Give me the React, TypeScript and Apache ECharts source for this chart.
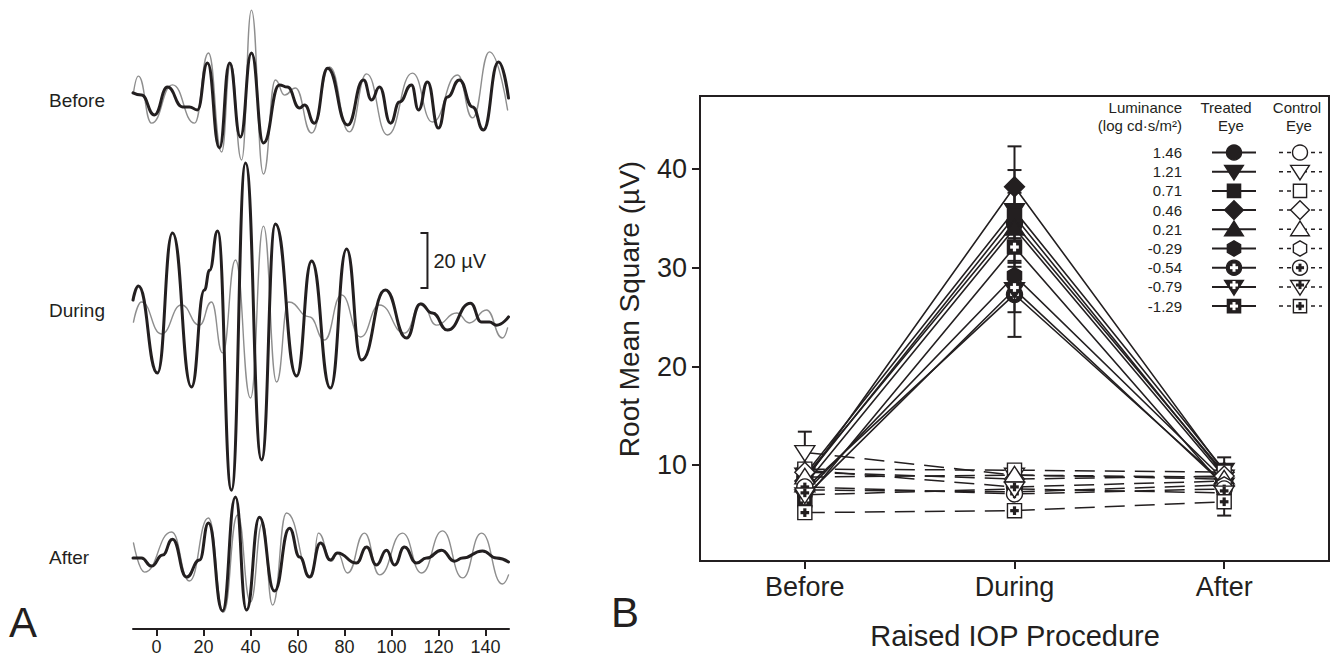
import React, { useEffect, useRef } from "react";
import * as echarts from "echarts";

// ---------- Panel A: oscillatory potential traces (time in ms, amplitude in µV) ----------
const beforeTreatedT = [-10, -6.4, -0.9, 4.7, 11.1, 14.0, 17.4, 21.7, 26.8, 31.1, 35.7, 40.4, 45.5, 52.3, 55.7, 60.9, 63.0, 67.2, 72.8, 81.3, 88.1, 91.5, 94.9, 99.6, 103.4, 108.5, 111.5, 115.3, 120.0, 123.8, 128.9, 134.5, 139.1, 145.5, 149.8];
const beforeTreatedA = [1.5, 0.7, -6.5, 3.6, -3.6, -3.6, -4.7, 12.4, -18.5, 12.4, -14.5, 16.0, -16.7, 4.4, 3.6, -4.0, -2.9, -9.5, 10.5, -10.2, 6.2, -1.1, 3.6, -9.5, -1.8, 4.4, -4.7, 5.5, -11.3, 0, 6.2, -3.6, -12.0, 12.7, -0.4];
const beforeControlT = [-9.8, -7.7, -2.1, 6.8, 16.2, 22.1, 27.7, 31.5, 36.2, 40.4, 45.5, 50.6, 54.5, 59.1, 66.0, 73.6, 82.1, 89.4, 98.3, 108.9, 117.4, 128.1, 134.5, 141.7, 149.4];
const beforeControlA = [1.5, 7.6, -9.5, 4.4, -9.5, 16.0, -20.0, 12.4, -22.9, 31.6, -28.0, 6.2, 0.7, 3.3, -13.1, 10.9, -12.7, 8.4, -13.8, 8.7, -9.1, 8.0, -7.6, 16.4, -4.7];

const duringTreatedT = [-10, -7.7, 0.4, 6.8, 14.9, 20.4, 22.6, 26.0, 31.9, 37.9, 44.7, 50.6, 59.6, 66.0, 74.0, 80.9, 87.2, 97.4, 106.4, 112.3, 117.4, 123.8, 133.6, 138.3, 141.7, 144.7, 149.8];
const duringTreatedA = [3.6, 8.7, -22.9, 28.0, -28.0, 7.3, 14.5, 28.7, -65.5, 53.5, -54.5, 31.3, -24.0, 17.8, -28.4, 22.2, -18.2, 7.3, -10.2, 2.2, -1.1, -7.3, 2.5, -4.4, -4.4, -5.5, -2.5];
const duringControlT = [-9.8, -6.4, 2.1, 10.6, 18.3, 23.4, 28.1, 33.6, 40.0, 45.5, 51.1, 56.2, 65.1, 71.5, 78.7, 86.8, 94.9, 105.5, 112.8, 119.1, 127.7, 133.2, 140.4, 147.2, 149.4];
const duringControlA = [-4.4, 2.9, -8.7, 1.8, -5.5, 2.9, -15.6, 18.2, -32.0, 30.5, -26.2, 2.9, -2.5, -10.9, 5.5, -9.8, 1.8, -8.4, 2.5, -5.5, -1.1, -4.7, 0, -10.2, -6.5];

const afterTreatedT = [-10, -6.4, -2.1, 2.6, 6.8, 12.8, 18.3, 22.1, 28.1, 33.6, 38.3, 43.8, 50.2, 56.6, 60.9, 65.1, 69.8, 74.0, 77.0, 85.1, 89.4, 93.6, 97.9, 101.3, 105.5, 110.6, 114.9, 121.3, 126.8, 130.2, 138.7, 144.7, 149.8];
const afterTreatedA = [-0.4, -0.4, -3.3, 0.7, 6.5, -7.3, -1.1, 12.4, -19.6, 21.8, -19.3, 14.5, -12.4, 10.5, 0, -7.3, 5.1, -1.1, 1.5, -2.2, 3.6, -2.9, 2.5, -2.9, 3.6, -2.2, -0.4, 2.5, -1.5, -0.4, 2.2, -0.4, -1.8];
const afterControlT = [-9.8, -5.1, 6.4, 14.0, 22.1, 28.5, 34.5, 40.0, 45.1, 49.4, 55.3, 66.0, 68.9, 74.5, 77.0, 81.3, 88.5, 94.9, 104.7, 112.8, 121.7, 130.2, 138.3, 147.2, 149.8];
const afterControlA = [5.1, -5.5, 9.1, -8.7, 14.2, -20.0, 15.3, -16.4, 12.4, -17.5, 16.0, -7.3, 8.7, -1.5, 1.5, -5.8, 8.7, -6.5, 8.7, -5.8, 9.5, -7.6, 8.7, -9.8, -6.5];

const traceLabels = ["Before", "During", "After"];
const timeTicks = [0, 20, 40, 60, 80, 100, 120, 140];
const scaleBarUv = 20;
const scaleBarT = 115.3;

// ---------- Panel B: RMS per luminance ----------
const phases = ["Before", "During", "After"];
const luminance = ["1.46", "1.21", "0.71", "0.46", "0.21", "-0.29", "-0.54", "-0.79", "-1.29"];
const treatedBefore = [8.8, 9.0, 8.6, 8.4, 8.0, 7.2, 7.6, 6.8, 6.5];
const treatedDuring = [34.5, 35.8, 35.2, 38.2, 34.0, 29.2, 27.3, 27.8, 32.1];
const treatedAfter = [9.2, 9.5, 9.0, 9.3, 8.8, 8.5, 8.2, 8.0, 7.8];
const controlBefore = [9.5, 11.3, 9.6, 9.3, 8.8, 7.5, 7.8, 7.0, 5.2];
const controlDuring = [7.8, 9.0, 9.5, 8.6, 9.0, 7.3, 7.1, 7.6, 5.4];
const controlAfter = [8.4, 8.8, 9.3, 8.9, 8.6, 8.0, 7.6, 7.2, 6.3];
const treatedSEBefore = [0.6, 0.6, 0.6, 0.6, 0.6, 0.6, 0.6, 0.6, 0.6];
const treatedSEDuring = [1.5, 1.8, 4.7, 4.1, 1.5, 1.5, 4.3, 2.3, 0.6];
const treatedSEAfter = [0.6, 0.6, 0.6, 0.6, 0.6, 0.6, 0.6, 0.6, 0.6];
const controlSEBefore = [0.6, 2.1, 0.6, 0.6, 0.6, 0.6, 0.6, 0.6, 0.6];
const controlSEDuring = [0.6, 0.6, 0.6, 0.6, 0.6, 0.6, 0.6, 0.6, 0.6];
const controlSEAfter = [0.6, 2.0, 0.6, 0.6, 0.6, 0.6, 0.6, 0.6, 1.4];
const rmsTicks = [10, 20, 30, 40];
const markerKinds = ["circle", "triDown", "square", "diamond", "triUp", "hexagon", "circlePlus", "triDownPlus", "squarePlus"];

// ---------- styling / layout ----------
const INK = "#231f20";
const GRAY = "#8e8e8e";
const FONT = "'Liberation Sans', Arial, Helvetica, sans-serif";
const A_PX_PER_UV = 2.75;
const A_HEIGHT = 629;
const BASE_BEFORE = (A_HEIGHT - 97) / A_PX_PER_UV;
const BASE_DURING = (A_HEIGHT - 310) / A_PX_PER_UV;
const BASE_AFTER = (A_HEIGHT - 557) / A_PX_PER_UV;

function shapeEls(kind: string, cx: number, cy: number, s: number, filled: boolean) {
  const h = s / 2;
  const style = { fill: filled ? INK : "#fff", stroke: INK, lineWidth: 1.4 };
  const els: any[] = [];
  const base = kind.replace("Plus", "");
  if (base === "circle") {
    els.push({ type: "circle", shape: { cx, cy, r: h }, style });
  } else if (base === "square") {
    const q = h * 0.88;
    els.push({ type: "rect", shape: { x: cx - q, y: cy - q, width: 2 * q, height: 2 * q }, style });
  } else if (base === "diamond") {
    const d = h * 1.25;
    els.push({ type: "polygon", shape: { points: [[cx, cy - d], [cx + d, cy], [cx, cy + d], [cx - d, cy]] }, style });
  } else if (base === "triUp") {
    els.push({ type: "polygon", shape: { points: [[cx, cy - h * 1.1], [cx + h * 1.25, cy + h * 0.85], [cx - h * 1.25, cy + h * 0.85]] }, style });
  } else if (base === "triDown") {
    els.push({ type: "polygon", shape: { points: [[cx, cy + h * 1.1], [cx + h * 1.25, cy - h * 0.85], [cx - h * 1.25, cy - h * 0.85]] }, style });
  } else if (base === "hexagon") {
    const pts: number[][] = [];
    for (let k = 0; k < 6; k++) {
      const ang = (-90 + k * 60) * Math.PI / 180;
      pts.push([cx + h * 1.02 * Math.cos(ang), cy + h * 1.02 * Math.sin(ang)]);
    }
    els.push({ type: "polygon", shape: { points: pts }, style });
  }
  if (kind.endsWith("Plus")) {
    const pc = filled ? "#fff" : INK;
    const a = s * 0.27;
    const t = s * 0.1;
    const py = base === "triDown" ? cy - h * 0.25 : cy;
    els.push({ type: "rect", shape: { x: cx - a, y: py - t, width: 2 * a, height: 2 * t }, style: { fill: pc } });
    els.push({ type: "rect", shape: { x: cx - t, y: py - a, width: 2 * t, height: 2 * a }, style: { fill: pc } });
  }
  return els;
}

function trace(t: number[], a: number[], base: number, color: string, width: number, z: number) {
  return {
    type: "line",
    xAxisIndex: 0,
    yAxisIndex: 0,
    data: t.map((x, i) => [x, a[i] + base]),
    symbol: "none",
    smooth: 0.5,
    smoothMonotone: "x",
    lineStyle: { color, width, cap: "round", join: "round" },
    silent: true,
    z,
  };
}

function buildOption() {
  const series: any[] = [];
  // Panel A traces
  series.push(trace(beforeControlT, beforeControlA, BASE_BEFORE, GRAY, 1.4, 2));
  series.push(trace(beforeTreatedT, beforeTreatedA, BASE_BEFORE, INK, 3, 3));
  series.push(trace(duringControlT, duringControlA, BASE_DURING, GRAY, 1.4, 2));
  series.push(trace(duringTreatedT, duringTreatedA, BASE_DURING, INK, 3, 3));
  series.push(trace(afterControlT, afterControlA, BASE_AFTER, GRAY, 1.4, 2));
  series.push(trace(afterTreatedT, afterTreatedA, BASE_AFTER, INK, 3, 3));

  // scale bar
  series.push({
    type: "custom",
    xAxisIndex: 0,
    yAxisIndex: 0,
    data: [[scaleBarT, BASE_DURING + 8, scaleBarUv]],
    encode: { x: 0, y: 1 },
    silent: true,
    renderItem: (params: any, api: any) => {
      const t = api.value(0);
      const y0 = api.value(1);
      const len = api.value(2);
      const b = api.coord([t, y0]);
      const top = api.coord([t, y0 + len]);
      return {
        type: "group",
        children: [
          { type: "polyline", shape: { points: [[b[0] - 7, top[1]], [b[0], top[1]], [b[0], b[1]], [b[0] - 7, b[1]]] }, style: { stroke: INK, lineWidth: 2, fill: "none" } },
          { type: "text", x: b[0] + 6, y: (b[1] + top[1]) / 2, style: { text: `${len} µV`, fill: INK, fontSize: 20, fontFamily: FONT, align: "left", verticalAlign: "middle" } },
        ],
      };
    },
  });

  // Panel B lines
  for (let i = 0; i < luminance.length; i++) {
    series.push({
      type: "line", xAxisIndex: 1, yAxisIndex: 1, symbol: "none", silent: true, z: 2,
      data: [controlBefore[i], controlDuring[i], controlAfter[i]],
      lineStyle: { color: INK, width: 1.5, type: [20, 10] },
    });
  }
  for (let i = 0; i < luminance.length; i++) {
    series.push({
      type: "line", xAxisIndex: 1, yAxisIndex: 1, symbol: "none", silent: true, z: 2,
      data: [treatedBefore[i], treatedDuring[i], treatedAfter[i]],
      lineStyle: { color: INK, width: 1.6 },
    });
  }

  // error bars
  const errData: number[][] = [];
  for (let i = 0; i < luminance.length; i++) {
    errData.push([0, treatedBefore[i], treatedSEBefore[i]]);
    errData.push([1, treatedDuring[i], treatedSEDuring[i]]);
    errData.push([2, treatedAfter[i], treatedSEAfter[i]]);
    errData.push([0, controlBefore[i], controlSEBefore[i]]);
    errData.push([1, controlDuring[i], controlSEDuring[i]]);
    errData.push([2, controlAfter[i], controlSEAfter[i]]);
  }
  series.push({
    type: "custom", xAxisIndex: 1, yAxisIndex: 1, silent: true, z: 3,
    data: errData, encode: { x: 0, y: 1 },
    renderItem: (params: any, api: any) => {
      const x = api.value(0), v = api.value(1), se = api.value(2);
      const c = api.coord([x, v]);
      const hi = api.coord([x, v + se]);
      const lo = api.coord([x, v - se]);
      const st = { stroke: INK, lineWidth: 2 };
      const ch: any[] = [];
      const cap = 7;
      if (c[1] - hi[1] > 9) {
        ch.push({ type: "line", shape: { x1: c[0], y1: c[1], x2: c[0], y2: hi[1] }, style: st });
        ch.push({ type: "line", shape: { x1: c[0] - cap, y1: hi[1], x2: c[0] + cap, y2: hi[1] }, style: st });
      }
      if (lo[1] - c[1] > 9) {
        ch.push({ type: "line", shape: { x1: c[0], y1: c[1], x2: c[0], y2: lo[1] }, style: st });
        ch.push({ type: "line", shape: { x1: c[0] - cap, y1: lo[1], x2: c[0] + cap, y2: lo[1] }, style: st });
      }
      return { type: "group", children: ch };
    },
  });

  // markers
  const mk = (filled: boolean, b: number[], d: number[], a: number[], z: number) => {
    const data: number[][] = [];
    for (let i = 0; i < luminance.length; i++) {
      data.push([0, b[i], i]);
      data.push([1, d[i], i]);
      data.push([2, a[i], i]);
    }
    return {
      type: "custom", xAxisIndex: 1, yAxisIndex: 1, silent: true, z,
      data, encode: { x: 0, y: 1 },
      renderItem: (params: any, api: any) => {
        const p = api.coord([api.value(0), api.value(1)]);
        return { type: "group", children: shapeEls(markerKinds[api.value(2)], p[0], p[1], 16, filled) };
      },
    };
  };
  series.push(mk(true, treatedBefore, treatedDuring, treatedAfter, 4));
  series.push(mk(false, controlBefore, controlDuring, controlAfter, 5));

  // graphics: labels, legend, titles
  const graphic: any[] = [];
  const txt = (text: string, x: number, y: number, size: number, align = "left", extra: any = {}) => ({
    type: "text", x, y, z: 100, ...extra,
    style: { text, fill: INK, fontSize: size, fontFamily: FONT, align, verticalAlign: "middle" },
  });
  const labelYs = [100, 310, 557];
  traceLabels.forEach((l, i) => graphic.push(txt(l, 49, labelYs[i], 19)));
  graphic.push(txt("A", 9, 622, 42));
  graphic.push(txt("B", 611, 612, 42));
  graphic.push(txt("Root Mean Square (µV)", 629, 309, 28, "center", { rotation: Math.PI / 2 }));
  graphic.push(txt("Raised IOP Procedure", 1015, 636, 29, "center"));

  // legend
  const LX = 1182, TX = 1234, CX = 1300;
  graphic.push(txt("Luminance", LX, 107, 15, "right"));
  graphic.push(txt("(log cd·s/m²)", LX, 125, 15, "right"));
  graphic.push(txt("Treated", 1226, 107, 15, "center"));
  graphic.push(txt("Eye", 1231, 125, 15, "center"));
  graphic.push(txt("Control", 1297, 107, 15, "center"));
  graphic.push(txt("Eye", 1299, 125, 15, "center"));
  luminance.forEach((lum, i) => {
    const y = 152.5 + i * 19.2;
    graphic.push(txt(lum, LX, y, 15, "right"));
    graphic.push({ type: "line", z: 100, shape: { x1: TX - 22, y1: y, x2: TX + 22, y2: y }, style: { stroke: INK, lineWidth: 2 } });
    graphic.push({ type: "line", z: 100, shape: { x1: CX - 21, y1: y, x2: CX + 22, y2: y }, style: { stroke: INK, lineWidth: 1.5, lineDash: [4, 4] } });
    shapeEls(markerKinds[i], TX, y, 15, true).forEach((e) => graphic.push({ ...e, z: 101 }));
    shapeEls(markerKinds[i], CX, y, 15, false).forEach((e) => graphic.push({ ...e, z: 101 }));
  });

  return {
    animation: false,
    backgroundColor: "#fff",
    textStyle: { fontFamily: FONT, color: INK },
    grid: [
      { left: 133, top: 0, width: 376, height: A_HEIGHT },
      { left: 700, top: 96, width: 629, height: 465, show: true, borderColor: INK, borderWidth: 2, backgroundColor: "transparent" },
    ],
    xAxis: [
      {
        type: "value", gridIndex: 0, min: -10, max: 150,
        axisLine: { show: true, onZero: false, lineStyle: { color: INK, width: 2 } },
        axisTick: { show: true, customValues: timeTicks, length: 7, lineStyle: { color: INK, width: 2 } },
        axisLabel: { customValues: timeTicks, fontSize: 18, color: INK, margin: 9, fontFamily: FONT },
        splitLine: { show: false },
      },
      {
        type: "category", gridIndex: 1, data: phases, boundaryGap: true,
        axisLine: { show: false },
        axisTick: { show: true, alignWithLabel: true, length: 8, lineStyle: { color: INK, width: 2 } },
        axisLabel: { fontSize: 27, color: INK, margin: 12, fontFamily: FONT },
        splitLine: { show: false },
      },
    ],
    yAxis: [
      { type: "value", gridIndex: 0, min: 0, max: A_HEIGHT / A_PX_PER_UV, show: false },
      {
        type: "value", gridIndex: 1, min: 0.3, max: 47.4,
        axisLine: { show: false },
        axisTick: { show: true, customValues: rmsTicks, length: 8, lineStyle: { color: INK, width: 2 } },
        axisLabel: { customValues: rmsTicks, fontSize: 27, color: INK, margin: 13, fontFamily: FONT },
        splitLine: { show: false },
      },
    ],
    series,
    graphic,
  };
}

export default function App() {
  const ref = useRef<HTMLDivElement>(null);
  useEffect(() => {
    const chart = echarts.init(ref.current!, null, { renderer: "svg" });
    chart.setOption(buildOption() as any);
    return () => chart.dispose();
  }, []);
  return <div ref={ref} style={{ position: "fixed", left: 0, top: 0, width: 1335, height: 660, background: "#fff" }} />;
}
